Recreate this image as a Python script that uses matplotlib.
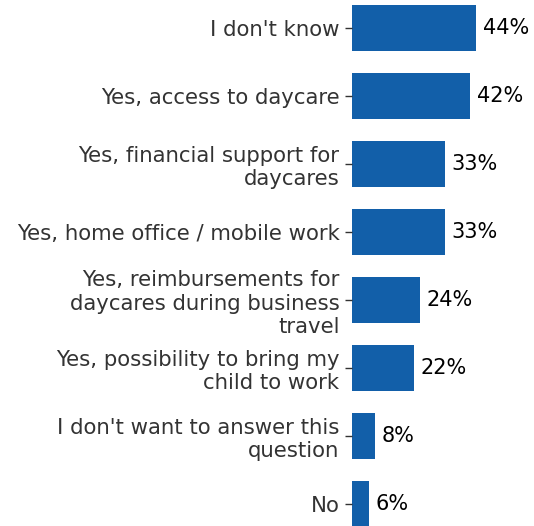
import matplotlib
matplotlib.use("Agg")
import matplotlib.pyplot as plt

categories = [
    "I don't know",
    "Yes, access to daycare",
    "Yes, financial support for\ndaycares",
    "Yes, home office / mobile work",
    "Yes, reimbursements for\ndaycares during business\ntravel",
    "Yes, possibility to bring my\nchild to work",
    "I don't want to answer this\nquestion",
    "No",
]
values = [44, 42, 33, 33, 24, 22, 8, 6]

bar_color = "#125fa9"

fig = plt.figure(figsize=(5.34, 5.26), dpi=100)
ax = fig.add_axes([352 / 534, 0.0, 141 / 534, 1.0])

pos = list(range(len(categories)))
ax.barh(pos, values, height=0.68, color=bar_color)
ax.set_ylim(7.32, -0.41)
ax.set_xlim(0, 50)

ax.set_yticks(pos)
ax.set_yticklabels(categories, fontsize=15.3, color="#333333", ha="right",
                   multialignment="right", linespacing=1.2)
ax.tick_params(axis="y", length=5, width=1, color="#333333", pad=4)
ax.set_xticks([])
for s in ax.spines.values():
    s.set_visible(False)

for p, v in zip(pos, values):
    ax.text(v + 2.4, p, "%d%%" % v, va="center", ha="left", fontsize=15,
            color="black")

fig.savefig("out.png", dpi=100)
